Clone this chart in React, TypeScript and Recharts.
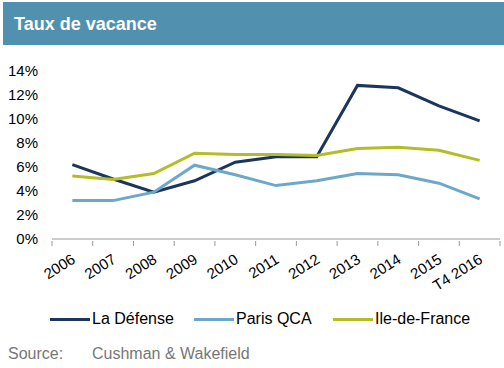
import React from 'react';
import { LineChart, Line, XAxis, YAxis, Legend } from 'recharts';

const categories = ['2006', '2007', '2008', '2009', '2010', '2011', '2012', '2013', '2014', '2015', 'T4 2016'];
const laDefense = [6.2, 5.0, 3.9, 4.85, 6.4, 6.85, 6.85, 12.8, 12.6, 11.1, 9.85];
const parisQCA = [3.2, 3.2, 3.9, 6.15, 5.35, 4.45, 4.85, 5.45, 5.35, 4.65, 3.35];
const ileDeFrance = [5.25, 4.95, 5.45, 7.15, 7.05, 7.05, 6.95, 7.55, 7.65, 7.4, 6.55];
const yTicks = [0, 2, 4, 6, 8, 10, 12, 14];
const seriesNames = ['La Défense', 'Paris QCA', 'Ile-de-France'];

const data = categories.map((c, i) => ({
  year: c,
  laDefense: laDefense[i],
  parisQCA: parisQCA[i],
  ileDeFrance: ileDeFrance[i],
}));

const FONT = '"Liberation Sans", Arial, sans-serif';
const HALF_BAND = 20.35;

const XTick = (props: any) => {
  const { x, y, payload, index } = props;
  const isLast = index === categories.length - 1;
  return (
    <g>
      <line x1={x - HALF_BAND} y1={y - 6} x2={x - HALF_BAND} y2={y - 1} stroke="#999" />
      {isLast && <line x1={x + HALF_BAND} y1={y - 6} x2={x + HALF_BAND} y2={y - 1} stroke="#999" />}
      <g transform={`translate(${x + 4},${y + 15})`}>
        <text x={0} y={0} textAnchor="end" transform="rotate(-32)" fontSize={15} fontFamily={FONT} fill="#000">
          {payload.value}
        </text>
      </g>
    </g>
  );
};

const LegendContent = (props: any) => {
  const payload = [...(props.payload || [])].sort(
    (a: any, b: any) => seriesNames.indexOf(a.value) - seriesNames.indexOf(b.value)
  );
  const lefts = [50, 194, 333];
  return (
    <div style={{ position: 'relative', width: 504, height: 24 }}>
      {payload.map((p: any, i: number) => (
        <div
          key={p.value}
          style={{
            position: 'absolute',
            left: lefts[i],
            top: 0,
            display: 'flex',
            alignItems: 'center',
            fontFamily: FONT,
            fontSize: 16,
            color: '#000',
            whiteSpace: 'nowrap',
          }}
        >
          <div style={{ width: 40, height: 3, background: p.color, marginRight: 2 }} />
          <span>{p.value}</span>
        </div>
      ))}
    </div>
  );
};

export default function App() {
  return (
    <div style={{ position: 'fixed', left: 0, top: 0, width: 504, height: 368, background: '#fff', overflow: 'hidden' }}>
      <div style={{ position: 'absolute', left: 3, top: 2, width: 501, height: 43, background: '#5190AE' }}>
        <div
          style={{
            position: 'absolute',
            left: 11,
            top: 12,
            color: '#fff',
            fontFamily: FONT,
            fontWeight: 'bold',
            fontSize: 18,
          }}
        >
          Taux de vacance
        </div>
      </div>
      <div style={{ position: 'absolute', left: 0, top: 0 }}>
        <LineChart width={504} height={368} data={data} margin={{ top: 71, right: 4, bottom: 89, left: 8 }}>
          <XAxis
            dataKey="year"
            height={40}
            interval={0}
            padding={{ left: HALF_BAND, right: HALF_BAND }}
            tick={<XTick />}
            axisLine={{ stroke: '#999' }}
            tickLine={false}
            tickSize={6}
          />
          <YAxis
            width={44}
            domain={[0, 14]}
            ticks={yTicks}
            interval={0}
            axisLine={false}
            tickLine={false}
            tickSize={6}
            tickMargin={8}
            tickFormatter={(v: number) => `${v}%`}
            tick={{ fontSize: 15, fontFamily: FONT, fill: '#000' }}
          />
          <Legend
            verticalAlign="middle"
            align="center"
            layout="horizontal"
            wrapperStyle={{ position: 'absolute', top: 310, left: 0, width: 504 }}
            content={<LegendContent />}
          />
          <Line dataKey="laDefense" name="La Défense" stroke="#1B365D" strokeWidth={3} dot={false} isAnimationActive={false} />
          <Line dataKey="parisQCA" name="Paris QCA" stroke="#6CA8C9" strokeWidth={3} dot={false} isAnimationActive={false} />
          <Line dataKey="ileDeFrance" name="Ile-de-France" stroke="#B3BD26" strokeWidth={3} dot={false} isAnimationActive={false} />
        </LineChart>
      </div>
      <div style={{ position: 'absolute', left: 8, top: 345, fontFamily: FONT, fontSize: 16, color: '#777' }}>Source:</div>
      <div style={{ position: 'absolute', left: 92, top: 345, fontFamily: FONT, fontSize: 16, color: '#777' }}>
        Cushman &amp; Wakefield
      </div>
    </div>
  );
}
